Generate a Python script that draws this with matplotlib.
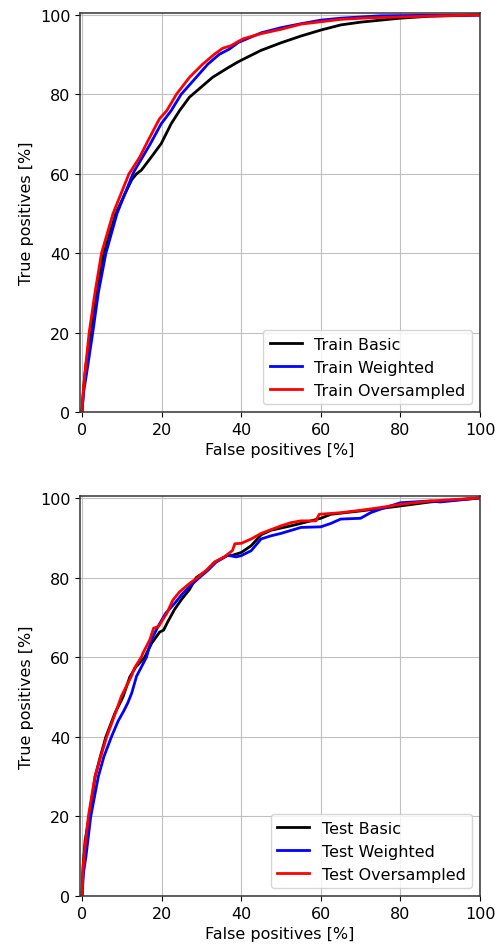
import matplotlib
matplotlib.use("Agg")
import matplotlib.pyplot as plt
import numpy as np

plt.rcParams["font.size"] = 11.5

# ROC curves (false positives %, true positives %)
train_basic_fp = [0, 0.4, 1.0, 2.25, 3.5, 5.5, 7, 8.5, 10.8, 12.5, 13.7, 14.9, 17.4, 19.9, 22.4, 24.5, 27, 29.9, 32.8, 36.5, 38.7, 40, 45, 50, 55, 60, 65, 70, 75, 80, 87.5, 100]
train_basic_tp = [0, 6, 12, 20, 30, 40, 45, 50, 55, 58.5, 60, 60.9, 64.2, 67.6, 72.6, 75.9, 79.3, 81.8, 84.3, 86.6, 87.9, 88.6, 91.1, 93, 94.7, 96.2, 97.5, 98.2, 98.7, 99.2, 99.7, 100]

train_weighted_fp = [0, 0.4, 1.2, 2.7, 4.1, 6, 8.8, 12.8, 13.25, 15.2, 17.2, 19.9, 22.4, 24.9, 28.7, 31.6, 34.5, 37, 39.3, 45, 50, 55, 60, 65, 70, 75, 85, 100]
train_weighted_tp = [0, 5, 10, 20, 30, 40, 50, 60, 60.9, 64.2, 67.6, 72.6, 75.9, 80, 84.3, 87.6, 90.1, 91.4, 93.1, 95.5, 96.8, 97.8, 98.7, 99.2, 99.5, 99.8, 99.9, 100]

train_over_fp = [0, 0.3, 0.75, 1.8, 3.25, 4.9, 7.8, 11.8, 12.4, 14.5, 16.2, 18.8, 19.5, 21.3, 23.7, 27, 30.3, 33.25, 35.3, 37.5, 39, 40.5, 45, 50, 55, 60, 65, 72.5, 80, 90, 100]
train_over_tp = [0, 5, 10, 20, 30, 40, 50, 60, 60.9, 64.2, 67.6, 72.6, 73.9, 75.9, 80, 84.3, 87.6, 90.1, 91.6, 92.3, 93.2, 94, 95.3, 96.4, 97.7, 98.3, 98.9, 99.3, 99.5, 99.8, 100]

test_basic_fp = [0, 0.3, 0.8, 1.8, 3.3, 4.6, 6, 8.3, 10.3, 12, 13.5, 15.75, 17.5, 19.5, 20.5, 21.5, 23.25, 25, 27, 28.7, 31.4, 33.5, 36.6, 37.5, 40, 42.5, 45, 47.5, 52.5, 57.5, 60, 62.5, 70, 80, 87.5, 100]
test_basic_tp = [0, 8, 14, 20, 30, 35, 40, 46, 50, 55, 57.5, 60, 63.5, 66.3, 66.8, 68.8, 72, 74.5, 77, 80, 81.8, 83.9, 85.6, 85.5, 86.3, 88, 90.75, 91.9, 93, 94.25, 94.9, 95.9, 96.75, 98, 99, 100]

test_weighted_fp = [0, 0.4, 1, 2.2, 4.1, 5.5, 7.4, 9.1, 10.5, 11.5, 12.5, 13.7, 16.2, 17.4, 19.1, 21, 23.25, 25.3, 27.8, 29.5, 31.6, 33.7, 36.6, 38.7, 40, 42.5, 45, 47.5, 50, 55, 60, 62.5, 65, 70, 72.5, 75, 80, 87.5, 90, 100]
test_weighted_tp = [0, 6, 10, 20, 30, 35, 40, 44, 46.5, 48.5, 51, 55.2, 60, 64.3, 67.7, 71, 73.5, 76, 78.5, 80, 81.8, 83.9, 85.6, 85.2, 85.5, 86.75, 89.7, 90.5, 91.1, 92.6, 92.75, 93.6, 94.7, 94.9, 96.3, 97.2, 98.8, 99.25, 99, 100]

test_over_fp = [0, 0.2, 0.5, 1.6, 3.25, 4.7, 6.2, 8.7, 9.9, 12.4, 13.2, 14.9, 15.3, 17, 18, 19.2, 21.3, 22.8, 24.5, 27, 29, 31.2, 33.25, 35.75, 37.8, 38.4, 40, 42.5, 45, 50, 52.5, 55, 58.75, 59.6, 65, 70, 75, 80, 87.5, 100]
test_over_tp = [0, 6, 10, 20, 30, 35, 40, 46.8, 50.2, 55.2, 57.3, 60, 61, 64.3, 67.3, 67.7, 71, 74.3, 76.4, 78.5, 80, 81.8, 83.9, 85.2, 86.8, 88.5, 88.6, 89.7, 91.1, 93, 93.8, 94.25, 94.25, 95.9, 96.3, 96.9, 97.6, 98.4, 99.25, 100]

ticks = [0, 20, 40, 60, 80, 100]

fig = plt.figure(figsize=(4.96, 9.53), dpi=100)
ax1 = fig.add_axes([0.1613, 0.5666, 0.8065, 0.4187])
ax2 = fig.add_axes([0.1613, 0.0588, 0.8065, 0.4197])

def plot_roc(ax, curves):
    for fp, tp, name, color in curves:
        ax.plot(fp, tp, label=name, color=color, linewidth=2)
    ax.set_xlabel("False positives [%]")
    ax.set_ylabel("True positives [%]")
    ax.set_xlim(-0.5, 100)
    ax.set_ylim(0, 100.5)
    ax.set_xticks(ticks)
    ax.set_yticks(ticks)
    ax.grid(True, color="#c0c0c0")
    for sp in ax.spines.values():
        sp.set_linewidth(1.1)
        sp.set_color("#333333")
    ax.legend(loc="lower right")

plot_roc(ax1, [(train_basic_fp, train_basic_tp, "Train Basic", "k"),
               (train_weighted_fp, train_weighted_tp, "Train Weighted", "b"),
               (train_over_fp, train_over_tp, "Train Oversampled", "r")])
plot_roc(ax2, [(test_basic_fp, test_basic_tp, "Test Basic", "k"),
               (test_weighted_fp, test_weighted_tp, "Test Weighted", "b"),
               (test_over_fp, test_over_tp, "Test Oversampled", "r")])

fig.savefig("out.png", dpi=100)
